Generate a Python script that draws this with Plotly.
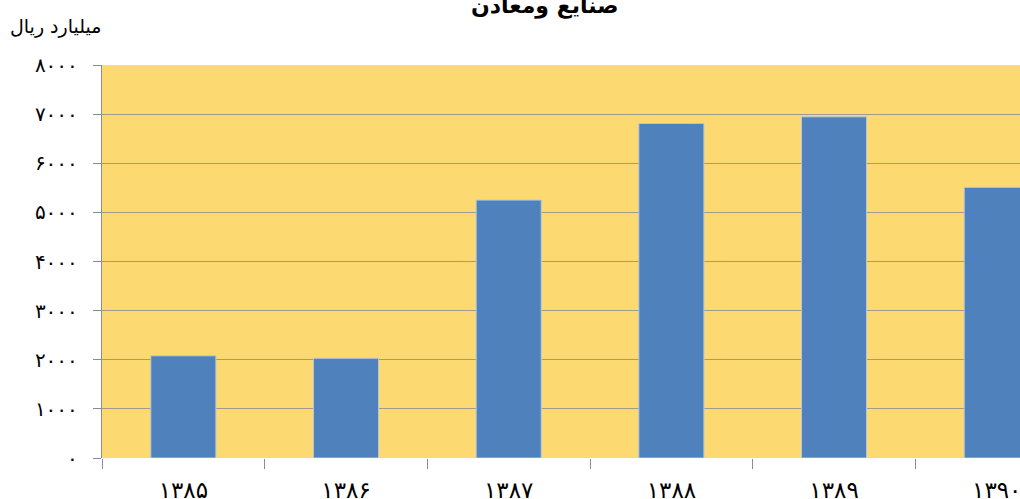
import plotly.graph_objects as go

years = ["۱۳۸۵", "۱۳۸۶", "۱۳۸۷", "۱۳۸۸", "۱۳۸۹", "۱۳۹۰"]
values = [2080, 2030, 5250, 6810, 6945, 5510]
y_tickvals = [0, 1000, 2000, 3000, 4000, 5000, 6000, 7000, 8000]
y_ticktext = ["۰", "۱۰۰۰", "۲۰۰۰", "۳۰۰۰", "۴۰۰۰", "۵۰۰۰", "۶۰۰۰", "۷۰۰۰", "۸۰۰۰"]
title_text = "صنایع ومعادن"
y_title = "میلیارد ریال"

FONT = "DejaVu Sans"

fig = go.Figure()
fig.add_trace(go.Bar(
    x=list(range(len(years))),
    y=values,
    width=0.4,
    marker=dict(color="#4F81BD", line=dict(color="#B8C8DC", width=1)),
    hoverinfo="skip",
))

W, H = 1020, 499
ml, mr, mt, mb = 102, 0, 65, 41

fig.update_layout(
    width=W, height=H,
    margin=dict(l=ml, r=mr, t=mt, b=mb, pad=0, autoexpand=False),
    paper_bgcolor="white",
    plot_bgcolor="#FDD972",
    showlegend=False,
    font=dict(family=FONT, color="#000000"),
)

fig.update_xaxes(
    type="linear",
    range=[-0.5, 5.143],
    tickvals=list(range(len(years))),
    ticktext=years,
    ticks="",
    showgrid=False,
    zeroline=False,
    showline=False,
    automargin=False,
    tickfont=dict(size=23, family=FONT),
    ticklabelstandoff=16,
    ticklabeloverflow="allow",
    minor=dict(tickvals=[i - 0.5 for i in range(len(years) + 1)], ticks="outside",
               ticklen=10, tickcolor="#8C8C8C", tickwidth=1.3, showgrid=False),
)

fig.update_yaxes(
    range=[0, 8000],
    tickvals=y_tickvals,
    ticktext=y_ticktext,
    ticks="outside",
    ticklen=8,
    tickcolor="#8C8C8C",
    tickwidth=1.3,
    showgrid=True,
    gridcolor="#A09A8C",
    gridwidth=1.3,
    zeroline=False,
    showline=True,
    linecolor="#8C8C8C",
    linewidth=1.3,
    automargin=False,
    tickfont=dict(size=20, family=FONT),
    ticklabelstandoff=11,
)

plot_w = W - ml - mr
plot_h = H - mt - mb
fig.add_annotation(
    text="<b>" + title_text + "</b>",
    xref="paper", yref="paper",
    x=(545 - ml) / plot_w, y=1 + 44 / plot_h,
    xanchor="center", yanchor="bottom",
    showarrow=False,
    font=dict(size=22, family=FONT, color="#000000"),
)
fig.add_annotation(
    text=y_title,
    xref="paper", yref="paper",
    x=(55 - ml) / plot_w, y=1 + 38 / plot_h,
    xanchor="center", yanchor="middle",
    showarrow=False,
    font=dict(size=19, family=FONT, color="#000000"),
)

fig.write_html("out.html", config={"displayModeBar": False},
               post_script="document.body.style.margin='0';document.body.style.padding='0';")
